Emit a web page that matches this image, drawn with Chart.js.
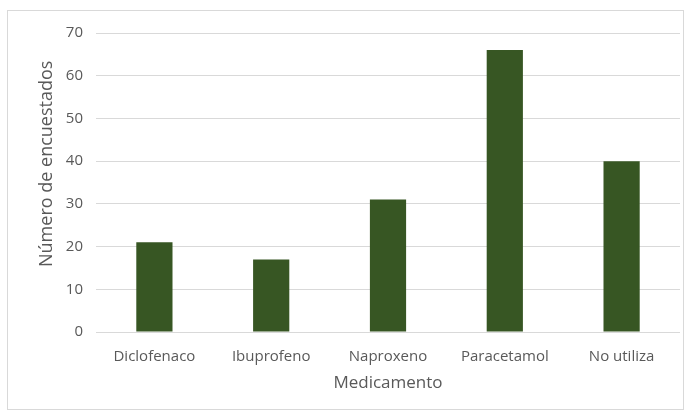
<!DOCTYPE html>
<html>
<head>
<meta charset="utf-8">
<script src="https://cdn.jsdelivr.net/npm/chart.js@4/dist/chart.umd.min.js"></script>
<style>
  html, body { margin: 0; padding: 0; background: #fff; }
  #frame {
    position: absolute; left: 7px; top: 10px;
    width: 675px; height: 398px;
    border: 1px solid #d9d9d9;
  }
  #chart { display: block; }
</style>
</head>
<body>
<div id="frame"><canvas id="chart" width="675" height="398"></canvas></div>
<script>
// encuesta: medicamento usado para el dolor
const medicamentos = ['Diclofenaco', 'Ibuprofeno', 'Naproxeno', 'Paracetamol', 'No utiliza'];
const encuestados = [21, 17, 31, 66, 40];
const yMax = 70;
const yStep = 10;

const GRIS = '#595959';
const FONT = "'Open Sans', sans-serif";

Chart.defaults.font.family = FONT;
Chart.defaults.color = GRIS;

// leading spaces nudge the rotated title a little above the plot centre
const yTitle = '\u00a0'.repeat(8) + 'Número de encuestados';

new Chart(document.getElementById('chart').getContext('2d'), {
  type: 'bar',
  data: {
    labels: medicamentos,
    datasets: [{
      label: 'Encuestados',
      data: encuestados,
      backgroundColor: '#375623',
      borderWidth: 0,
      categoryPercentage: 1,
      barPercentage: 0.31,
    }]
  },
  options: {
    responsive: false,
    animation: false,
    layout: { padding: { top: 21, right: 3, left: 0, bottom: 0 } },
    plugins: {
      legend: { display: false },
      tooltip: { enabled: false },
    },
    scales: {
      x: {
        grid: { display: false },
        border: { display: false },
        ticks: { color: GRIS, font: { size: 15 }, padding: 8, maxRotation: 0 },
        title: {
          display: true, text: 'Medicamento', color: GRIS,
          font: { size: 17 }, padding: { top: 0, bottom: 16 }
        },
        afterFit: s => { s.height = 77; },
      },
      y: {
        min: 0, max: yMax,
        grid: { color: '#d9d9d9', lineWidth: 1, drawTicks: false },
        border: { display: false },
        ticks: { stepSize: yStep, color: GRIS, font: { size: 15 }, padding: 13 },
        title: {
          display: true, text: yTitle, color: GRIS,
          font: { size: 18 }, padding: { top: 28, bottom: 0 }
        },
        afterFit: s => { s.width = 88; },
      }
    }
  }
});
</script>
</body>
</html>
